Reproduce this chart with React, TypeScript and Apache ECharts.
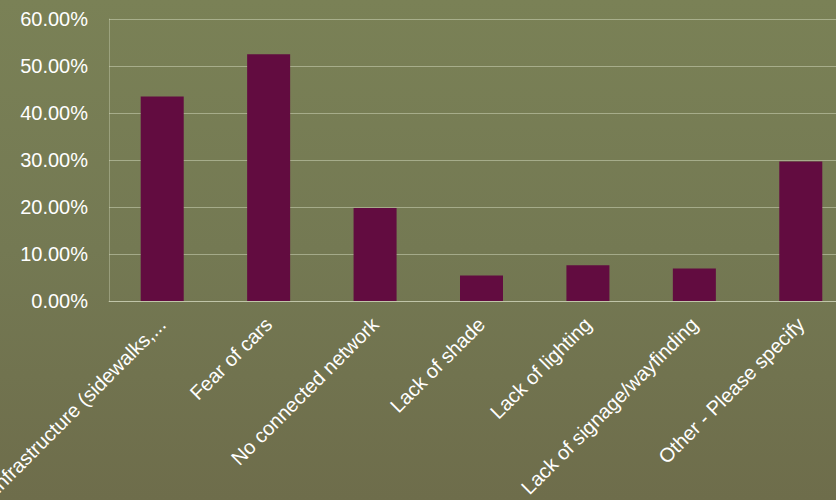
import React, { useEffect, useRef } from "react";
import * as echarts from "echarts";

const categories = [
  "Lack of infrastructure (sidewalks,...",
  "Fear of cars",
  "No connected network",
  "Lack of shade",
  "Lack of lighting",
  "Lack of signage/wayfinding",
  "Other - Please specify",
];
const values = [43.5, 52.5, 19.8, 5.4, 7.6, 6.9, 29.7];
const yTicks = { min: 0, max: 60, interval: 10 };

export default function App() {
  const ref = useRef<HTMLDivElement>(null);
  useEffect(() => {
    if (!ref.current) return;
    const chart = echarts.init(ref.current, undefined, { renderer: "svg" });
    chart.setOption({
      animation: false,
      backgroundColor: {
        type: "linear",
        x: 0,
        y: 0,
        x2: 0,
        y2: 1,
        colorStops: [
          { offset: 0, color: "#7a8156" },
          { offset: 0.5, color: "#747953" },
          { offset: 1, color: "#6e6d4b" },
        ],
      },
      grid: {
        left: 109,
        top: 19,
        width: 745,
        height: 282,
        containLabel: false,
        outerBoundsMode: "none",
      },
      xAxis: {
        type: "category",
        data: categories,
        axisTick: { show: false },
        axisLine: { show: true, lineStyle: { color: "rgba(220,225,200,0.5)", width: 1 } },
        axisLabel: {
          rotate: 45,
          interval: 0,
          margin: 20,
          color: "#ffffff",
          fontSize: 20,
          fontFamily: "Liberation Sans, Arial, sans-serif",
        },
      },
      yAxis: {
        type: "value",
        min: yTicks.min,
        max: yTicks.max,
        interval: yTicks.interval,
        axisLine: { show: true, lineStyle: { color: "rgba(220,225,200,0.35)" } },
        axisTick: { show: false },
        splitLine: { lineStyle: { color: "rgba(225,230,205,0.45)", width: 1.2 } },
        axisLabel: {
          margin: 21,
          color: "#ffffff",
          fontSize: 20,
          fontFamily: "Liberation Sans, Arial, sans-serif",
          formatter: (v: number) => v.toFixed(2) + "%",
        },
      },
      series: [
        {
          type: "bar",
          data: values,
          barWidth: 43,
          itemStyle: { color: "#620c40" },
        },
      ],
    });
    return () => chart.dispose();
  }, []);
  return (
    <div
      ref={ref}
      style={{ position: "fixed", left: 0, top: 0, width: 836, height: 500 }}
    />
  );
}
